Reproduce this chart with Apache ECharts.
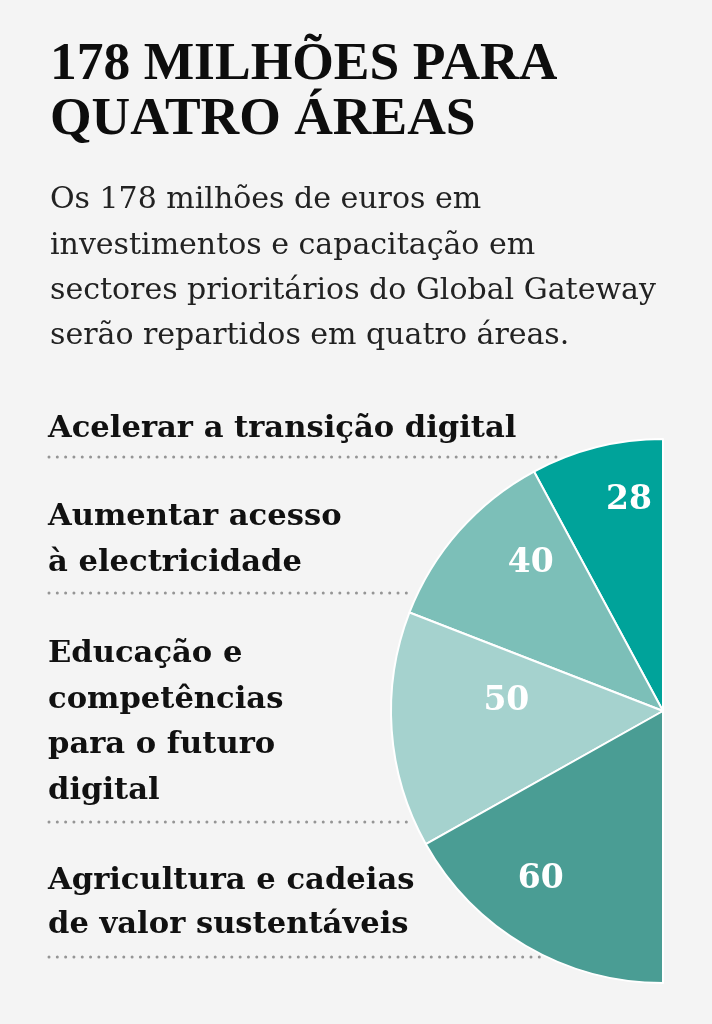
<!DOCTYPE html>
<html>
<head>
<meta charset="utf-8">
<script src="https://cdn.jsdelivr.net/npm/echarts@6/dist/echarts.min.js"></script>
<style>
html,body{margin:0;padding:0;background:#f4f4f4;}
#chart{width:712px;height:1024px;}
</style>
</head>
<body>
<div id="chart"></div>
<script>
// dados
var titleLines = ['178 MILHÕES PARA', 'QUATRO ÁREAS'];
var introLines = [
	'Os 178 milhões de euros em',
	'investimentos e capacitação em',
	'sectores prioritários do Global Gateway',
	'serão repartidos em quatro áreas.'
];
var areas = [
	'Acelerar a transição digital',
	'Aumentar acesso\nà electricidade',
	'Educação e\ncompetências\npara o futuro\ndigital',
	'Agricultura e cadeias\nde valor sustentáveis'
];
var amounts = [28, 40, 50, 60];
var sliceColors = ['#00a39a', '#7cbfb8', '#a5d2ce', '#4a9d94'];

var chart = echarts.init(document.getElementById('chart'));

var cx = 663, cy = 711, R = 272;
var serif = '"DejaVu Serif", serif';

// blocos de texto à esquerda: baseline da 1a linha, altura de linha
var blocks = [
	{y: 440, lh: 46},
	{y: 528, lh: 46},
	{y: 665, lh: 45.5},
	{y: 892, lh: 44}
];
var rules = [457, 593, 822, 957];
// ajuste dos números dentro das fatias
var labelNudge = [[0, -76], [-28, -56], [-18, -19], [-52, 48]];

function textTop(baseline, lh, fs) {
	return baseline - lh / 2 - 0.35 * fs;
}

var graphics = [];

graphics.push({
	type: 'text', x: 50, y: textTop(80, 55, 53.5) + 4,
	style: {
		text: titleLines.join('\n'), fill: '#0d0d0d', lineHeight: 55,
		font: 'bold 53.5px "Liberation Serif", serif', verticalAlign: 'top'
	}
});
graphics.push({
	type: 'text', x: 50, y: textTop(211, 45.3, 30),
	style: {
		text: introLines.join('\n'), fill: '#222', lineHeight: 45.3,
		font: '30px ' + serif, verticalAlign: 'top'
	}
});
areas.forEach(function (a, i) {
	graphics.push({
		type: 'text', x: 48, y: textTop(blocks[i].y, blocks[i].lh, 30.6),
		style: {
			text: a, fill: '#111', lineHeight: blocks[i].lh,
			font: 'bold 30.6px ' + serif, verticalAlign: 'top'
		}
	});
});
rules.forEach(function (y) {
	var dy = y - cy;
	var x2 = cx - Math.sqrt(Math.max(0, R * R - dy * dy)) - 4;
	graphics.push({
		type: 'line',
		shape: {x1: 49, y1: y, x2: x2, y2: y},
		style: {stroke: '#959595', lineWidth: 3, lineDash: [0.01, 8.3], lineCap: 'round'}
	});
});

var option = {
	backgroundColor: '#f4f4f4',
	animation: false,
	graphic: graphics,
	series: [{
		type: 'pie',
		center: [cx, cy],
		radius: R,
		startAngle: 90,
		endAngle: 270,
		clockwise: false,
		silent: true,
		itemStyle: {borderColor: '#ffffff', borderWidth: 2},
		label: {
			position: 'inside',
			color: '#ffffff',
			fontFamily: serif,
			fontWeight: 'bold',
			fontSize: 33,
			formatter: '{c}'
		},
		labelLine: {show: false},
		data: amounts.map(function (v, i) {
			return {
				value: v,
				name: areas[i],
				itemStyle: {color: sliceColors[i]},
				label: {offset: labelNudge[i]}
			};
		})
	}]
};

chart.setOption(option);
</script>
</body>
</html>
